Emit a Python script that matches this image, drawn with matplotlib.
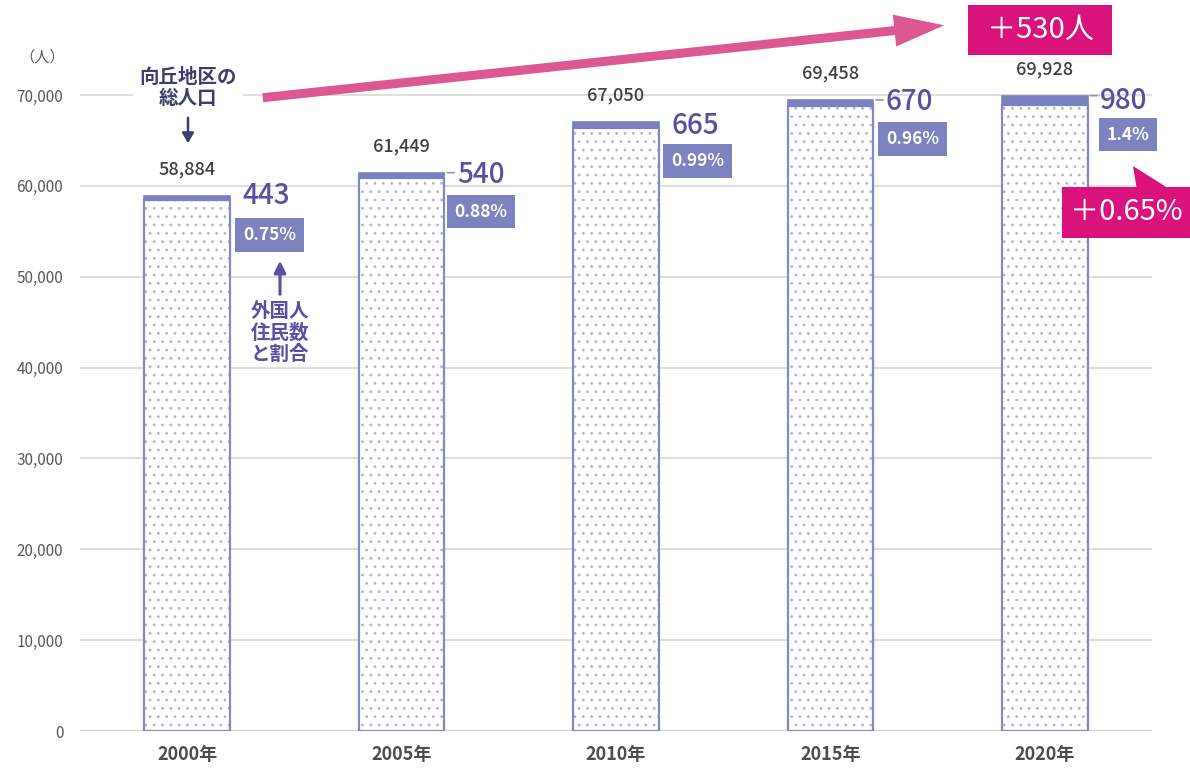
import matplotlib.pyplot as plt
import matplotlib.patches as mpatches
import numpy as np

plt.rcParams['font.family'] = ['Noto Sans CJK JP', 'DejaVu Sans']
plt.rcParams['hatch.linewidth'] = 0.8

# data
years = ['2000年', '2005年', '2010年', '2015年', '2020年']
total = [58884, 61449, 67050, 69458, 69928]
foreign = [443, 540, 665, 670, 980]
ratio = ['0.75%', '0.88%', '0.99%', '0.96%', '1.4%']
yticks = [0, 10000, 20000, 30000, 40000, 50000, 60000, 70000]

bar_edge = '#8588c6'
dot_col = '#b2b4d8'
band_col = '#7b80c0'
num_col = '#5a4fa2'
box_col = '#7e82bf'
magenta = '#d9127c'
arrow_pink = '#dc5891'
navy = '#3c3f6e'

W, H = 1190, 776
fig = plt.figure(figsize=(W / 100, H / 100), dpi=100)
ax = fig.add_axes([80 / W, 45 / H, 1072 / W, 731 / H])

x = np.arange(len(years))
bw = 0.40
ymax = 731 / 636 * 70000
ax.set_xlim(-0.5, 4.5)
ax.set_ylim(0, ymax)

# bars: dotted fill, outline, foreign band on top
lower = [t - f for t, f in zip(total, foreign)]
ax.bar(x, lower, bw, color='white', edgecolor=dot_col, hatch='..', linewidth=0, zorder=2)
ax.bar(x, lower, bw, fill=False, edgecolor=bar_edge, linewidth=1.6, zorder=3)
ax.bar(x, foreign, bw, bottom=lower, color=band_col, edgecolor=band_col, linewidth=1.2, zorder=3)

ax.set_yticks(yticks)
ax.set_yticklabels([f'{v:,}' for v in yticks], fontsize=11, color='#595959')
ax.set_xticks(x)
ax.set_xticklabels(years, fontsize=13, color='#4d4d4d', fontweight='bold')
ax.tick_params(axis='y', length=0, pad=12)
ax.tick_params(axis='x', length=0, pad=10)
ax.grid(axis='y', color='#d9d9d9', linewidth=1.2, zorder=0)
for s in ax.spines.values():
    s.set_visible(False)
ax.axhline(0, color='#d0d0d0', linewidth=1.6, zorder=1)

fig.text(42 / W, 1 - 57 / H, '（人）', fontsize=11, color='#595959', ha='center', va='center')

# labels
num_dy = [0, -2, -4, -2, -5]
box_dx = [6, 3, 5, 6, 12]
dash = [False, True, False, True, True]
for i in range(len(years)):
    ax.annotate(f'{total[i]:,}', (x[i], total[i]), xytext=(0, 19), textcoords='offset points',
                ha='center', va='center', fontsize=13, fontweight='medium', color='#404040', zorder=5)
    ax.annotate(str(foreign[i]), (x[i] + bw / 2, total[i]), xytext=(9, num_dy[i] * 0.72),
                textcoords='offset points', ha='left', va='center', fontsize=20,
                fontweight='medium', color=num_col, zorder=5)
    if dash[i]:
        ax.annotate('', (x[i] + bw / 2, total[i]), xytext=(9, 0), textcoords='offset points',
                    arrowprops=dict(arrowstyle='-', color='#999999', lw=1.2))
    ax.annotate(ratio[i], (x[i] + bw / 2, total[i]), xytext=(box_dx[i] * 0.72 + 5, -28),
                textcoords='offset points', ha='left', va='center', fontsize=12.5,
                fontweight='bold', color='white', zorder=5,
                bbox=dict(boxstyle='square,pad=0.45', fc=box_col, ec='none'))

# annotation texts
fig.text(188 / W, 1 - 88 / H, '向丘地区の\n総人口', fontsize=14, fontweight='bold', color=navy,
         ha='center', va='center', linespacing=1.15,
         bbox=dict(boxstyle='square,pad=0.3', fc='white', ec='none'), zorder=6)
fig.add_artist(mpatches.FancyArrowPatch((188, H - 115), (188, H - 146), transform=None,
                                        arrowstyle='-|>,head_length=6,head_width=3.5',
                                        mutation_scale=1, color=navy, lw=1.8))
fig.text(280 / W, 1 - 333 / H, '外国人\n住民数\nと割合', fontsize=14, fontweight='bold',
         color=num_col, ha='center', va='center', linespacing=1.15)
fig.add_artist(mpatches.FancyArrowPatch((280, H - 297), (280, H - 258), transform=None,
                                        arrowstyle='-|>,head_length=7,head_width=3.5',
                                        mutation_scale=1, color=num_col, lw=2.2))

# pink trend arrow
fig.add_artist(mpatches.FancyArrowPatch((260, H - 98), (947, H - 25), transform=None,
                                        arrowstyle='simple,head_length=36,head_width=23,tail_width=6.5',
                                        mutation_scale=1, color=arrow_pink, lw=0))

# magenta callout boxes
fig.add_artist(mpatches.Rectangle((968, H - 55), 144, 50, transform=None, color=magenta, lw=0))
fig.text(1040 / W, 1 - 30 / H, '＋530人', fontsize=21, color='white', ha='center', va='center')
fig.add_artist(mpatches.Polygon([(1133, H - 166), (1137, H - 190), (1171, H - 190)],
                                closed=True, transform=None, color=magenta, lw=0))
fig.add_artist(mpatches.Rectangle((1062, H - 238), 128, 51, transform=None, color=magenta, lw=0))
fig.text(1126 / W, 1 - 212 / H, '＋0.65%', fontsize=21, color='white', ha='center', va='center')

fig.savefig('out.png', dpi=100)
